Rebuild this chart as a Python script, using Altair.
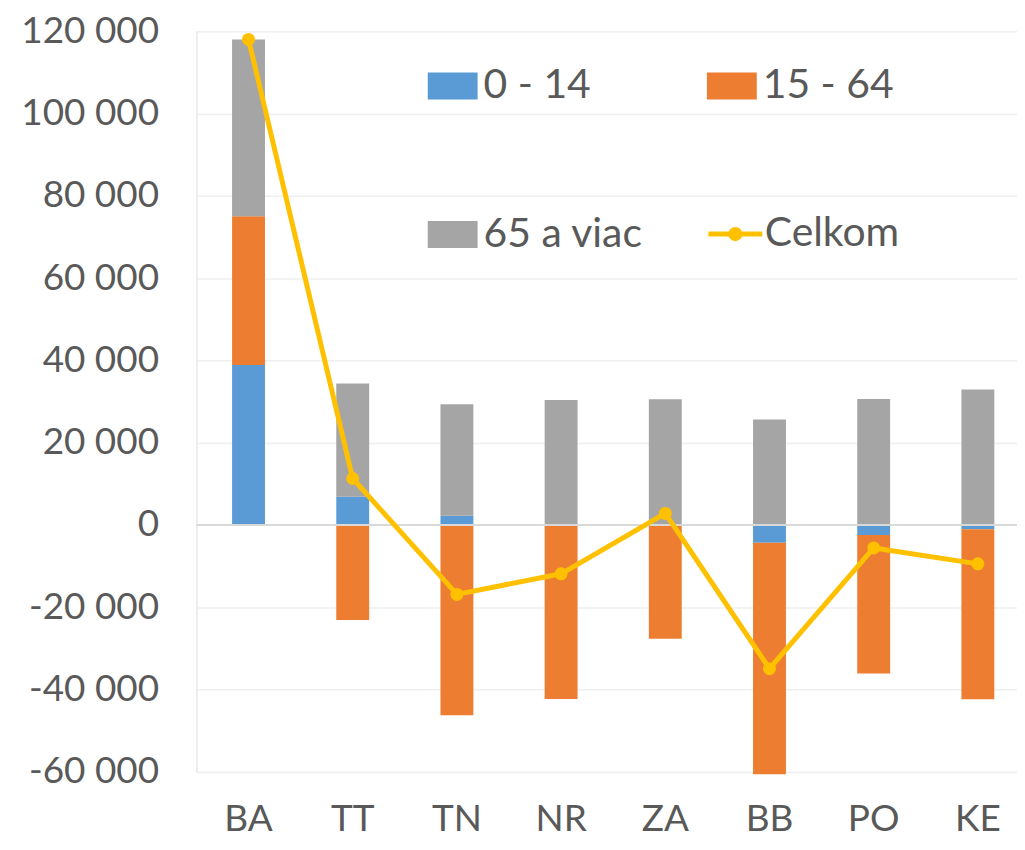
import altair as alt
import pandas as pd

regions = ["BA", "TT", "TN", "NR", "ZA", "BB", "PO", "KE"]
age_0_14 = [38900, 6850, 2250, 0, 0, -4280, -2420, -1040]
age_15_64 = [36100, -23050, -46200, -42250, -27650, -56250, -33680, -41280]
age_65_plus = [43000, 27550, 27100, 30400, 30550, 25630, 30640, 32960]
celkom = [118000, 11300, -16850, -11850, 2830, -34900, -5560, -9430]

groups = ["0 - 14", "15 - 64", "65 a viac"]
group_colors = ["#5B9BD5", "#ED7D31", "#A5A5A5"]
# legend fills column by column: put entries so that rows read 0-14 | 15-64, 65 a viac
legend_order = ["0 - 14", "65 a viac", "15 - 64"]
legend_colors = ["#5B9BD5", "#A5A5A5", "#ED7D31"]
line_name = "Celkom"
line_color = "#FFC000"
y_ticks = [-60000, -40000, -20000, 0, 20000, 40000, 60000, 80000, 100000, 120000]

rows = []
for gi, (g, vals) in enumerate(zip(groups, [age_0_14, age_15_64, age_65_plus])):
    for r, v in zip(regions, vals):
        rows.append({"region": r, "group": g, "value": v, "order": gi})
bars_df = pd.DataFrame(rows)
line_df = pd.DataFrame({"region": regions, "value": celkom, "series": [line_name] * len(regions)})
zero_df = pd.DataFrame({"value": [0]})

FONT = "Lato"
TXT = "#595959"

x_enc = alt.X(
    "region:N",
    sort=regions,
    scale=alt.Scale(paddingInner=0, paddingOuter=0),
    axis=alt.Axis(
        title=None, labelAngle=0, labelFont=FONT, labelFontSize=37, labelColor=TXT,
        domain=False, ticks=False, grid=False, labelPadding=30,
    ),
)

y_axis = alt.Axis(
    title=None, values=y_ticks, labelFont=FONT, labelFontSize=37, labelColor=TXT,
    domain=False, ticks=False, grid=True, gridColor="#EFEFEF", gridWidth=1.5,
    labelPadding=38,
    labelExpr="replace(replace(format(datum.value, ','), regexp(',', 'g'), ' '), '\u2212', '-')",
)
y_scale = alt.Scale(domain=[-60000, 120000], nice=False)

bars = alt.Chart(bars_df).mark_bar(size=33).encode(
    x=x_enc,
    y=alt.Y("value:Q", stack="zero", scale=y_scale, axis=y_axis),
    color=alt.Color(
        "group:N",
        scale=alt.Scale(domain=legend_order, range=legend_colors),
        legend=alt.Legend(
            title=None, orient="none", legendX=232, legendY=30, columns=2,
            columnPadding=64, rowPadding=104, padding=0,
            symbolType="M-1,-0.54H1V0.54H-1Z", symbolSize=2500, symbolStrokeWidth=0,
            labelFont=FONT, labelFontSize=41, labelColor=TXT, labelOffset=6, labelLimit=400,
        ),
    ),
    order=alt.Order("order:Q"),
)

zero_rule = alt.Chart(zero_df).mark_rule(color="#D9D9D9", strokeWidth=2).encode(
    y=alt.Y("value:Q", scale=y_scale, axis=y_axis)
)

line = alt.Chart(line_df).mark_line(strokeWidth=5).encode(
    x=x_enc,
    y=alt.Y("value:Q", scale=y_scale, axis=y_axis),
    stroke=alt.Stroke(
        "series:N",
        scale=alt.Scale(domain=[line_name], range=[line_color]),
        legend=alt.Legend(
            title=None, orient="none", legendX=511, legendY=174, padding=0,
            symbolType="M-1,0L1,0M-0.17,0a0.17,0.17 0 1,0 0.34,0a0.17,0.17 0 1,0 -0.34,0",
            symbolSize=2916, symbolStrokeWidth=5, symbolFillColor=line_color,
            symbolStrokeColor=line_color,
            labelFont=FONT, labelFontSize=41, labelColor=TXT, labelOffset=0, labelLimit=400,
        ),
    ),
)

points = alt.Chart(line_df).mark_circle(size=170, color=line_color, opacity=1).encode(
    x=x_enc,
    y=alt.Y("value:Q", scale=y_scale, axis=y_axis),
)

chart = (
    alt.layer(bars, zero_rule, line, points)
    .properties(width=836, height=743, padding={"left": 12, "top": 3, "right": -14, "bottom": 0})
    .configure_view(stroke=None)
    .configure(background="white")
)

chart.save("out.html", embed_options={"renderer": "svg", "actions": False})
